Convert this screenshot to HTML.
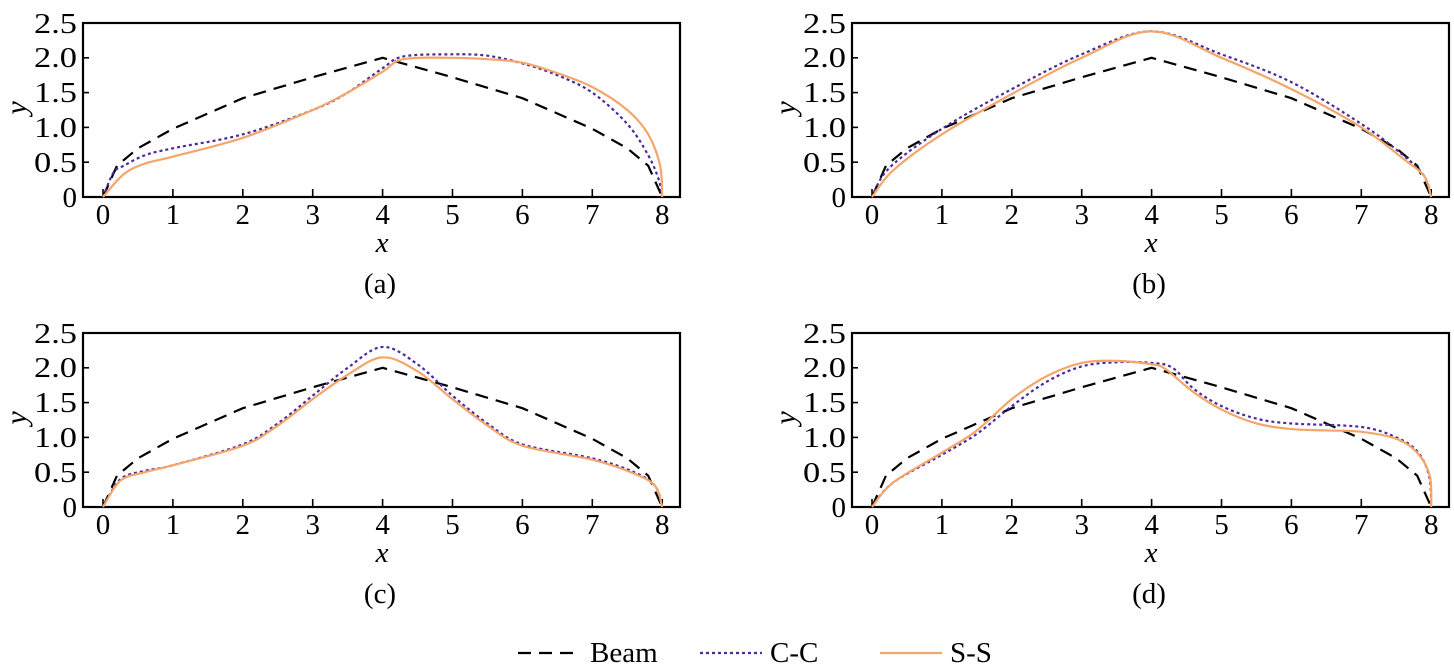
<!DOCTYPE html>
<html><head><meta charset="utf-8"><style>
html,body{margin:0;padding:0;background:#fff;}
svg{display:block;font-family:"Liberation Serif",serif;}
</style></head><body>
<svg id="s" width="1454" height="670" viewBox="0 0 1454 670" xmlns="http://www.w3.org/2000/svg">
<defs>
<g id="ax">
<rect x="83" y="23" width="597" height="174" fill="none" stroke="#000" stroke-width="2.2"/>
<g stroke="#000" stroke-width="1.6">
<line x1="103" y1="197" x2="103" y2="189"/><line x1="172.9" y1="197" x2="172.9" y2="189"/><line x1="242.8" y1="197" x2="242.8" y2="189"/><line x1="312.7" y1="197" x2="312.7" y2="189"/><line x1="382.6" y1="197" x2="382.6" y2="189"/><line x1="452.5" y1="197" x2="452.5" y2="189"/><line x1="522.4" y1="197" x2="522.4" y2="189"/><line x1="592.3" y1="197" x2="592.3" y2="189"/><line x1="662.2" y1="197" x2="662.2" y2="189"/>
<line x1="83" y1="162.2" x2="89" y2="162.2"/><line x1="83" y1="127.4" x2="89" y2="127.4"/><line x1="83" y1="92.6" x2="89" y2="92.6"/><line x1="83" y1="57.8" x2="89" y2="57.8"/>
</g>
<g font-size="29" text-anchor="end">
<text x="77" y="207">0</text>
<text x="77" y="172" textLength="43" lengthAdjust="spacingAndGlyphs">0.5</text>
<text x="77" y="137" textLength="43" lengthAdjust="spacingAndGlyphs">1.0</text>
<text x="77" y="102" textLength="43" lengthAdjust="spacingAndGlyphs">1.5</text>
<text x="77" y="67" textLength="43" lengthAdjust="spacingAndGlyphs">2.0</text>
<text x="77" y="33" textLength="43" lengthAdjust="spacingAndGlyphs">2.5</text>
</g>
<g font-size="29" text-anchor="middle">
<text x="103" y="224">0</text><text x="172.9" y="224">1</text><text x="242.8" y="224">2</text><text x="312.7" y="224">3</text><text x="382.6" y="224">4</text><text x="452.5" y="224">5</text><text x="522.4" y="224">6</text><text x="592.3" y="224">7</text><text x="662.2" y="224">8</text>
<text x="382" y="252" font-style="italic">x</text>
</g>
<text x="26" y="108" font-size="30" font-style="italic" text-anchor="middle" transform="rotate(-90 26 108)">y</text>
</g>
</defs>
<g id="pa"><use href="#ax"/><text x="380" y="293" font-size="29" text-anchor="middle">(a)</text></g>
<g id="pb" transform="translate(769,0)"><use href="#ax"/><text x="380" y="293" font-size="29" text-anchor="middle">(b)</text></g>
<g id="pc" transform="translate(0,310)"><use href="#ax"/><text x="380" y="293" font-size="29" text-anchor="middle">(c)</text></g>
<g id="pd" transform="translate(769,310)"><use href="#ax"/><text x="380" y="293" font-size="29" text-anchor="middle">(d)</text></g>
<g font-size="29">
<line x1="518" y1="653" x2="580" y2="653" stroke="#000" stroke-width="2.2" stroke-dasharray="13,8"/>
<text x="590" y="662">Beam</text>
<line x1="700" y1="653" x2="762" y2="653" stroke="#4b2a9c" stroke-width="2.2" stroke-dasharray="3,3"/>
<text x="770" y="662">C-C</text>
<line x1="880" y1="653" x2="942" y2="653" stroke="#f4a66a" stroke-width="2.2"/>
<text x="950" y="662">S-S</text>
</g>
</svg>
<script>
var beam=[[0,0],[0.2,0.45],[0.5,0.7],[1,0.98],[2,1.42],[3,1.72],[4,2.0],[5,1.72],[6,1.42],[7,0.98],[7.5,0.7],[7.8,0.45],[8,0]];
var D={
pa:{cc:[[0,0],[0.15,0.35],[0.3,0.45],[0.6,0.6],[1,0.7],[2,0.9],[3,1.25],[3.5,1.5],[4,1.85],[4.3,2.02],[5,2.05],[5.5,2.03],[6,1.92],[6.5,1.75],[7,1.5],[7.5,1.05],[7.8,0.6],[7.95,0.25],[8,0]],
ss:[[0,0],[0.3,0.33],[0.6,0.48],[1,0.58],[2,0.85],[3,1.25],[3.5,1.5],[4,1.8],[4.3,1.98],[5,2.0],[5.5,1.98],[6,1.93],[6.5,1.78],[7,1.58],[7.5,1.25],[7.8,0.9],[7.97,0.45],[8,0]]},
pb:{cc:[[0,0],[0.25,0.42],[1,0.98],[2,1.55],[3,2.05],[4,2.38],[5,2.05],[6,1.65],[7,1.05],[7.6,0.6],[7.9,0.3],[8,0]],
ss:[[0,0],[0.3,0.38],[1,0.9],[2,1.48],[3,2.0],[4,2.38],[5,2.0],[6,1.55],[7,1.0],[7.6,0.55],[7.9,0.3],[8,0]]},
pc:{cc:[[0,0],[0.25,0.4],[0.6,0.52],[1,0.6],[2,0.9],[2.5,1.2],[3,1.6],[3.5,2.0],[4,2.3],[4.5,2.05],[5,1.6],[5.5,1.2],[6,0.9],[7,0.7],[7.6,0.5],[7.9,0.3],[8,0]],
ss:[[0,0],[0.25,0.38],[0.6,0.5],[1,0.6],[2,0.88],[2.5,1.17],[3,1.55],[3.5,1.9],[4,2.15],[4.5,1.95],[5,1.55],[5.5,1.17],[6,0.88],[7,0.68],[7.6,0.48],[7.9,0.3],[8,0]]},
pd:{cc:[[0,0],[0.3,0.35],[1,0.75],[1.5,1.05],[2,1.45],[2.5,1.8],[3,2.02],[3.5,2.08],[4,2.07],[4.3,2.0],[4.6,1.7],[5,1.45],[5.5,1.27],[6,1.2],[7,1.15],[7.5,1.0],[7.8,0.8],[7.97,0.45],[8,0]],
ss:[[0,0],[0.3,0.35],[1,0.78],[1.5,1.1],[2,1.55],[2.5,1.88],[3,2.07],[3.5,2.1],[4,2.05],[4.2,1.98],[4.6,1.65],[5,1.4],[5.5,1.2],[6,1.12],[6.5,1.1],[7,1.08],[7.5,0.98],[7.8,0.78],[7.98,0.45],[8,0]]}};
function P(p){return [103+p[0]*69.9,197-p[1]*69.6];}
function path(pts,smooth){var q=pts.map(P),d="M"+q[0][0].toFixed(1)+","+q[0][1].toFixed(1);
for(var i=0;i<q.length-1;i++){var p0=q[Math.max(i-1,0)],p1=q[i],p2=q[i+1],p3=q[Math.min(i+2,q.length-1)];
if(!smooth){d+="L"+p2[0].toFixed(1)+","+p2[1].toFixed(1);continue;}
var c1=[p1[0]+(p2[0]-p0[0])/6,p1[1]+(p2[1]-p0[1])/6],c2=[p2[0]-(p3[0]-p1[0])/6,p2[1]-(p3[1]-p1[1])/6];
d+="C"+c1.join(",")+" "+c2.join(",")+" "+p2.join(",");}return d;}
var NS="http://www.w3.org/2000/svg";
for(var k in D){var g=document.getElementById(k);
[[beam,"#000","13,8",2.2,false],[D[k].cc,"#4b2a9c","3,3",2.2,true],[D[k].ss,"#f4a66a","",2.2,true]].forEach(function(s){
var e=document.createElementNS(NS,"path");e.setAttribute("d",path(s[0],s[4]));e.setAttribute("fill","none");e.setAttribute("stroke",s[1]);
e.setAttribute("stroke-width",s[3]);if(s[2])e.setAttribute("stroke-dasharray",s[2]);g.appendChild(e);});}
</script>
</body></html>
